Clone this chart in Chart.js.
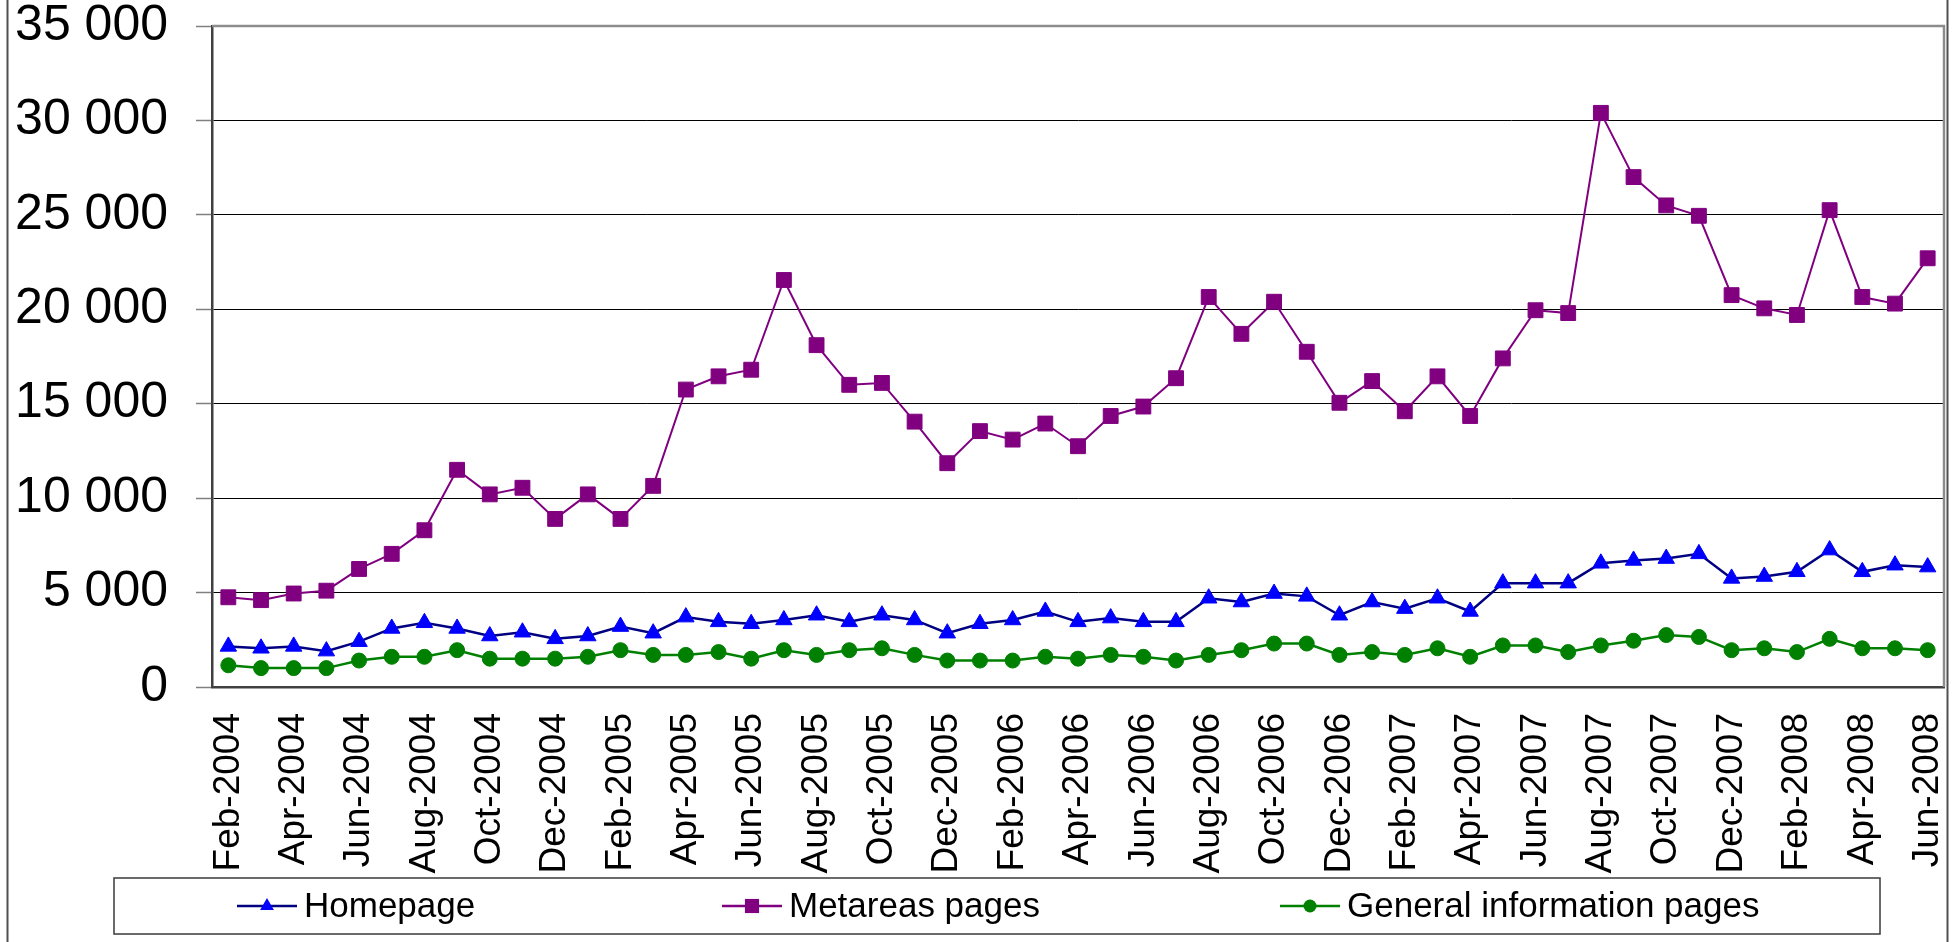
<!DOCTYPE html>
<html>
<head>
<meta charset="utf-8">
<title>Monthly page views</title>
<script src="https://cdn.jsdelivr.net/npm/chart.js@4.4.1/dist/chart.umd.min.js"></script>
<style>
  html, body { margin: 0; padding: 0; background: #ffffff; }
  #wrap { width: 1957px; height: 942px; }
</style>
</head>
<body>
<div id="wrap"><canvas id="chart" width="1957" height="942"></canvas></div>
<script>
// Months, Feb-2004 .. Jun-2008
const months = [
  'Feb-2004','Mar-2004','Apr-2004','May-2004','Jun-2004','Jul-2004','Aug-2004','Sep-2004','Oct-2004','Nov-2004','Dec-2004',
  'Jan-2005','Feb-2005','Mar-2005','Apr-2005','May-2005','Jun-2005','Jul-2005','Aug-2005','Sep-2005','Oct-2005','Nov-2005','Dec-2005',
  'Jan-2006','Feb-2006','Mar-2006','Apr-2006','May-2006','Jun-2006','Jul-2006','Aug-2006','Sep-2006','Oct-2006','Nov-2006','Dec-2006',
  'Jan-2007','Feb-2007','Mar-2007','Apr-2007','May-2007','Jun-2007','Jul-2007','Aug-2007','Sep-2007','Oct-2007','Nov-2007','Dec-2007',
  'Jan-2008','Feb-2008','Mar-2008','Apr-2008','May-2008','Jun-2008'
];

const homepage = [
  2150, 2050, 2150, 1900, 2400, 3100, 3400, 3100, 2700, 2900, 2550,
  2700, 3200, 2850, 3700, 3450, 3350, 3550, 3800, 3450, 3800, 3550, 2850,
  3350, 3550, 4000, 3450, 3650, 3450, 3450, 4700, 4500, 4950, 4800, 3800,
  4500, 4150, 4700, 4000, 5500, 5500, 5500, 6550, 6700, 6800, 7050, 5750,
  5850, 6100, 7250, 6100, 6450, 6350
];

const metareas = [
  4750, 4600, 4950, 5100, 6250, 7050, 8300, 11500, 10200, 10550, 8900,
  10200, 8900, 10650, 15750, 16450, 16800, 21550, 18100, 16000, 16100, 14050, 11850,
  13550, 13100, 13950, 12750, 14350, 14850, 16350, 20650, 18700, 20400, 17750, 15050,
  16200, 14600, 16450, 14350, 17400, 19950, 19800, 30400, 27000, 25500, 24950, 20750,
  20050, 19700, 25250, 20650, 20300, 22700
];

const generalInfo = [
  1150, 1000, 1000, 1000, 1400, 1600, 1600, 1950, 1500, 1500, 1500,
  1600, 1950, 1700, 1700, 1850, 1500, 1950, 1700, 1950, 2050, 1700, 1400,
  1400, 1400, 1600, 1500, 1700, 1600, 1400, 1700, 1950, 2300, 2300, 1700,
  1850, 1700, 2050, 1600, 2200, 2200, 1850, 2200, 2450, 2750, 2650, 1950,
  2050, 1850, 2550, 2050, 2050, 1950
];

const seriesNames = ['Homepage', 'Metareas pages', 'General information pages'];

const FONT = "'Liberation Sans', Arial, Helvetica, sans-serif";

function spaced(v) {
  return String(v).replace(/\B(?=(\d{3})+(?!\d))/g, ' ');
}

// small marker painter shared by the legend
function paintMarker(ctx, style, x, y, r, fill) {
  ctx.save();
  ctx.fillStyle = fill;
  ctx.beginPath();
  if (style === 'triangle') {
    ctx.moveTo(x, y - r);
    ctx.lineTo(x + r * 0.866, y + r * 0.5);
    ctx.lineTo(x - r * 0.866, y + r * 0.5);
    ctx.closePath();
  } else if (style === 'rect') {
    const s = r * Math.SQRT1_2;
    ctx.rect(x - s, y - s, 2 * s, 2 * s);
  } else {
    ctx.arc(x, y, r, 0, Math.PI * 2);
  }
  ctx.fill();
  ctx.restore();
}

// outer frame, plot-area frame and boxed legend
const framePlugin = {
  id: 'frames',
  beforeDatasetsDraw(chart) {
    const { ctx, chartArea: a } = chart;
    ctx.save();
    ctx.strokeStyle = '#8c8c8c';
    ctx.lineWidth = 2.5;
    ctx.beginPath();
    ctx.moveTo(a.left, a.top);
    ctx.lineTo(a.right, a.top);
    ctx.lineTo(a.right, a.bottom);
    ctx.stroke();
    ctx.restore();
  },
  afterDraw(chart) {
    const { ctx } = chart;
    ctx.save();
    // outer chart frame
    ctx.strokeStyle = '#505050';
    ctx.lineWidth = 2;
    ctx.beginPath();
    ctx.moveTo(7.5, 0); ctx.lineTo(7.5, chart.height);
    ctx.moveTo(1947.5, 0); ctx.lineTo(1947.5, chart.height);
    ctx.stroke();

    // legend box
    const lx = 114, ly = 878, lw = 1766, lh = 56;
    ctx.strokeStyle = '#3a3a3a';
    ctx.lineWidth = 1.5;
    ctx.strokeRect(lx, ly, lw, lh);

    const starts = [237, 722, 1280];
    const cy = ly + lh / 2;
    chart.data.datasets.forEach((ds, i) => {
      const x0 = starts[i];
      ctx.strokeStyle = ds.borderColor;
      ctx.lineWidth = 2.5;
      ctx.beginPath();
      ctx.moveTo(x0, cy);
      ctx.lineTo(x0 + 60, cy);
      ctx.stroke();
      paintMarker(ctx, ds.pointStyle, x0 + 30, cy, ds.pointStyle === 'rect' ? 10 : (ds.pointStyle === 'triangle' ? 8 : 6.5), ds.pointBackgroundColor);
      ctx.fillStyle = '#000000';
      ctx.font = '35px ' + FONT;
      ctx.textAlign = 'left';
      ctx.textBaseline = 'middle';
      ctx.fillText(ds.label, x0 + 67, cy + 1);
    });
    ctx.restore();
  }
};

new Chart(document.getElementById('chart'), {
  type: 'line',
  data: {
    labels: months,
    datasets: [
      {
        label: seriesNames[0],
        data: homepage,
        borderColor: '#000080',
        borderWidth: 2.5,
        pointStyle: 'triangle',
        pointRadius: 9.5,
        pointBackgroundColor: '#0000ff',
        pointBorderColor: '#0000ff',
        pointBorderWidth: 1,
        tension: 0
      },
      {
        label: seriesNames[1],
        data: metareas,
        borderColor: '#800080',
        borderWidth: 2,
        pointStyle: 'rect',
        pointRadius: 10.5,
        pointBackgroundColor: '#800080',
        pointBorderColor: '#800080',
        pointBorderWidth: 1,
        tension: 0
      },
      {
        label: seriesNames[2],
        data: generalInfo,
        borderColor: '#008000',
        borderWidth: 2.5,
        pointStyle: 'circle',
        pointRadius: 7.5,
        pointBackgroundColor: '#008000',
        pointBorderColor: '#008000',
        pointBorderWidth: 1,
        tension: 0
      }
    ]
  },
  options: {
    responsive: false,
    devicePixelRatio: 1,
    animation: false,
    layout: { padding: { left: 0, right: 13, top: 26, bottom: 0 } },
    plugins: {
      legend: { display: false },
      tooltip: { enabled: false }
    },
    scales: {
      x: {
        offset: true,
        grid: { display: false, drawTicks: false },
        border: { display: true, color: '#404040', width: 2.5 },
        ticks: {
          autoSkip: false,
          minRotation: 90,
          maxRotation: 90,
          padding: 26,
          color: '#000000',
          font: { family: FONT, size: 37 },
          callback: function (value, index) {
            return index % 2 === 0 ? this.getLabelForValue(value) : '';
          }
        },
        afterFit: (scale) => {
          scale.height = 255;
          scale.paddingLeft = 0;
          scale.paddingRight = 0;
        }
      },
      y: {
        min: 0,
        max: 35000,
        grid: {
          color: '#000000',
          lineWidth: 1,
          tickLength: 16,
          tickColor: '#808080',
          tickWidth: 1.5
        },
        border: { display: true, color: '#404040', width: 2.5 },
        ticks: {
          stepSize: 5000,
          padding: 28,
          color: '#000000',
          font: { family: FONT, size: 50, lineHeight: 1 },
          callback: (v) => spaced(v)
        },
        afterFit: (scale) => {
          scale.width = 212;
          scale.paddingTop = 0;
          scale.paddingBottom = 0;
        }
      }
    }
  },
  plugins: [framePlugin]
});
</script>
</body>
</html>
